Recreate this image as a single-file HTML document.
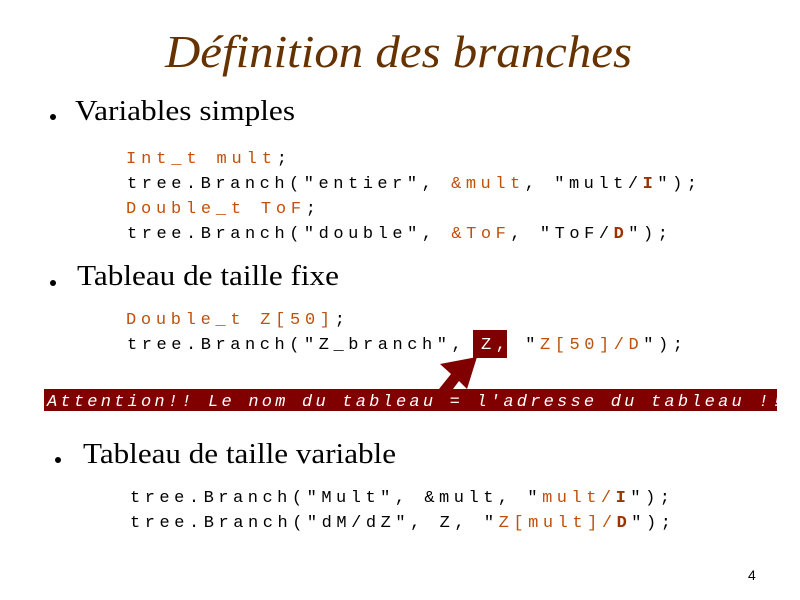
<!DOCTYPE html>
<html><head><meta charset="utf-8"><style>
html,body{margin:0;padding:0;background:#fff;}
svg{display:block;}
.m{font-family:"Liberation Mono",monospace;font-size:17px;}
.s{font-family:"Liberation Serif",serif;font-size:29px;fill:#000;}
.o{fill:#c0500a;}
.b{fill:#993300;font-weight:bold;}
</style></head><body>
<svg width="800" height="600" viewBox="0 0 800 600" xmlns="http://www.w3.org/2000/svg">
<text x="165" y="67" font-family="Liberation Serif,serif" font-style="italic" font-size="46" fill="#663300" textLength="467" lengthAdjust="spacingAndGlyphs">Définition des branches</text>
<circle cx="53" cy="117" r="3" fill="#000"/>
<text class="s" x="75" y="120" textLength="220" lengthAdjust="spacingAndGlyphs">Variables simples</text>
<text class="m" x="126" y="163" textLength="161" lengthAdjust="spacing"><tspan class="o">Int_t mult</tspan>;</text>
<text class="m" x="127" y="188" textLength="570" lengthAdjust="spacing">tree.Branch("entier", <tspan class="o">&amp;mult</tspan>, "mult/<tspan class="b">I</tspan>");</text>
<text class="m" x="126" y="213" textLength="190" lengthAdjust="spacing"><tspan class="o">Double_t ToF</tspan>;</text>
<text class="m" x="127" y="238" textLength="541" lengthAdjust="spacing">tree.Branch("double", <tspan class="o">&amp;ToF</tspan>, "ToF/<tspan class="b">D</tspan>");</text>
<circle cx="53" cy="283" r="3" fill="#000"/>
<text class="s" x="77" y="285" textLength="262" lengthAdjust="spacingAndGlyphs">Tableau de taille fixe</text>
<text class="m" x="126" y="324" textLength="219" lengthAdjust="spacing"><tspan class="o">Double_t Z[50]</tspan>;</text>
<rect x="473" y="330" width="34" height="28" fill="#800000"/>
<text class="m" x="127" y="349" textLength="556" lengthAdjust="spacing">tree.Branch("Z_branch", <tspan fill="#fff">Z,</tspan> "<tspan class="o">Z[50]/D</tspan>");</text>
<polygon points="477,357 467,389 459,381 453,389 439,389 451,374 440,364" fill="#800000"/>
<rect x="44" y="389" width="733" height="22" fill="#800000"/>
<text x="47" y="406" font-family="Liberation Mono,monospace" font-style="italic" font-size="17" fill="#fff" textLength="735" lengthAdjust="spacing">Attention!! Le nom du tableau = l'adresse du tableau !!</text>
<circle cx="58" cy="460" r="3" fill="#000"/>
<text class="s" x="83" y="463" textLength="313" lengthAdjust="spacingAndGlyphs">Tableau de taille variable</text>
<text class="m" x="130" y="502" textLength="540" lengthAdjust="spacing">tree.Branch("Mult", &amp;mult, "<tspan class="o">mult/</tspan><tspan class="b">I</tspan>");</text>
<text class="m" x="130" y="527" textLength="541" lengthAdjust="spacing">tree.Branch("dM/dZ", Z, "<tspan class="o">Z[mult]/</tspan><tspan class="b">D</tspan>");</text>
<text x="748" y="580" font-family="Liberation Sans,sans-serif" font-size="14" fill="#000">4</text>
</svg>
</body></html>
